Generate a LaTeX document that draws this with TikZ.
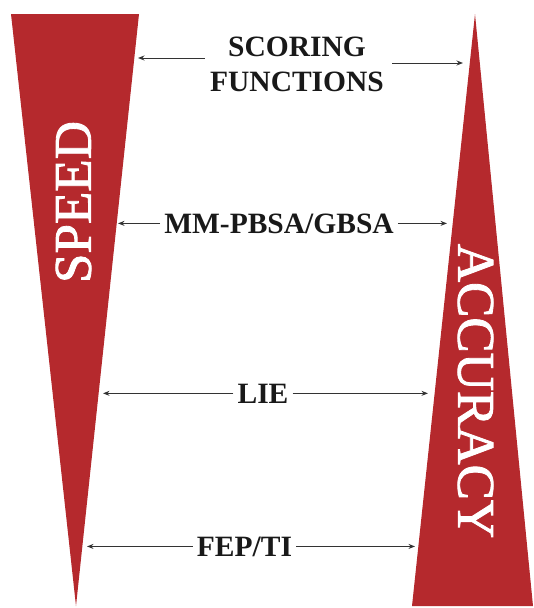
\documentclass[tikz,border=0pt]{standalone}
\usepackage{fontspec}
\setmainfont{Liberation Serif}
\newfontfamily\heavyserif[FakeBold=1.6]{Liberation Serif}
\usetikzlibrary{arrows.meta}
\definecolor{wedgered}{RGB}{181,41,45}
\begin{document}
\begin{tikzpicture}[x=1pt,y=-1pt,
  wedge/.style={fill=wedgered},
  lbl/.style={font=\fontsize{29.5}{35}\selectfont\bfseries, inner sep=0pt, text=black!90},
  big/.style={font=\heavyserif\fontsize{53}{60}\selectfont, text=white, inner sep=0pt},
  arr/.style={-{Stealth[length=6.5pt,width=5pt]}, line width=1pt, draw=black!80}]
\useasboundingbox (0,0) rectangle (534,608);
% wedges
\fill[wedge] (11,14) -- (139,14) -- (76,606) -- cycle;
\fill[wedge] (475,14) -- (533,606) -- (412,606) -- cycle;
\node[big, rotate=90] (speed) at (73.5,202) {SPEED};
\node[big, rotate=-90] (acc) at (475.5,391) {ACCURACY};
% arrow tips
\coordinate (sTip1) at (138,58);
\coordinate (sTip2) at (463,63);
\coordinate (mTip1) at (118,222);
\coordinate (mTip2) at (447,222);
\coordinate (lTip1) at (103,393);
\coordinate (lTip2) at (428,393);
\coordinate (fTip1) at (87,544);
\coordinate (fTip2) at (415,544);
% labels
\node[lbl, align=center] (score) at (297,64.5) {SCORING\\FUNCTIONS};
\node[lbl, anchor=base] (mm) at (279,233) {MM-PBSA/GBSA};
\node[lbl, anchor=base] (lie) at (263,403) {LIE};
\node[lbl, anchor=base] (fep) at (244.5,556) {FEP/TI};
% connectors
\draw[arr] ([xshift=-5pt,yshift=6.5pt]score.west) -- (sTip1);
\draw[arr] ([xshift=8pt,yshift=1.5pt]score.east) -- (sTip2);
\draw[arr] ([xshift=-4pt]mm.west) -- (mm.west -| mTip1);
\draw[arr] ([xshift=4pt]mm.east) -- (mm.east -| mTip2);
\draw[arr] ([xshift=-4pt]lie.west) -- (lie.west -| lTip1);
\draw[arr] ([xshift=4pt]lie.east) -- (lie.east -| lTip2);
\draw[arr] ([xshift=-4pt]fep.west) -- (fep.west -| fTip1);
\draw[arr] ([xshift=4pt]fep.east) -- (fep.east -| fTip2);
\end{tikzpicture}
\end{document}
